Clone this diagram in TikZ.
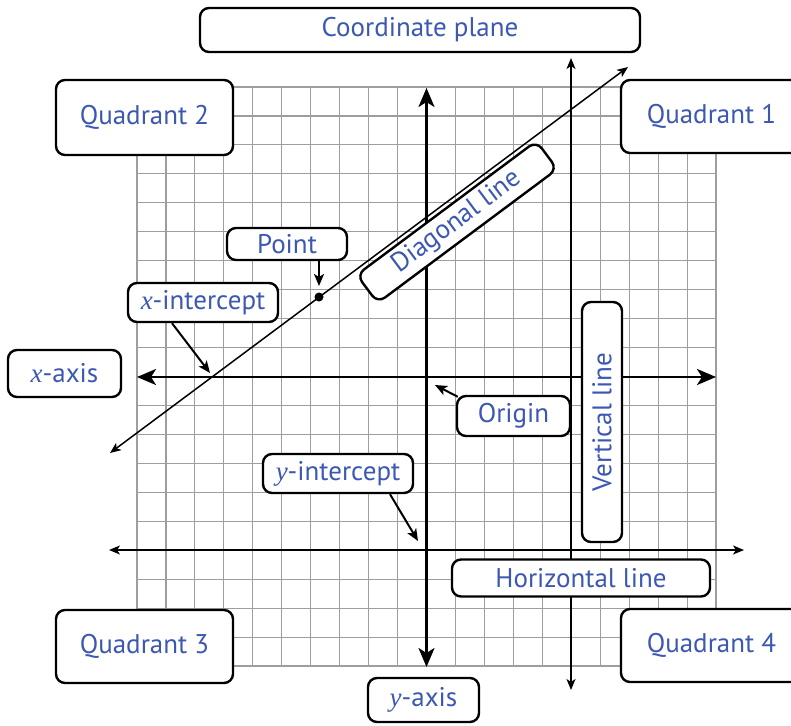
\documentclass[tikz,border=0pt]{standalone}
\usepackage{fontspec}
\setmainfont{PT Sans}
\newfontfamily\italfont{Liberation Serif}
\usetikzlibrary{arrows.meta}
\definecolor{lblue}{RGB}{60,88,178}
\newcommand{\vx}{{\italfont\itshape x}}
\newcommand{\vy}{{\italfont\itshape y}}
\begin{document}
\begin{tikzpicture}[x=1pt,y=-1pt,
  lbl/.style={draw=black, line width=2.4pt, rounded corners=9pt, fill=white, text=lblue,
    font=\fontsize{27}{30}\selectfont, inner sep=0pt, align=center},
  gridline/.style={draw=black!38, line width=1.1pt},
  axisline/.style={line width=2.6pt, {Stealth[length=19pt,width=16pt,inset=5pt]}-{Stealth[length=19pt,width=16pt,inset=5pt]}},
  thinline/.style={line width=1.5pt, {Stealth[length=11pt,width=9pt,inset=3pt]}-{Stealth[length=11pt,width=9pt,inset=3pt]}},
  callout/.style={line width=2pt, -{Stealth[length=12pt,width=10pt,inset=3pt]}}]
\useasboundingbox (0,0) rectangle (791,725);
\fill[white] (0,0) rectangle (791,725);
% grid
\foreach \i in {0,...,20} {
  \draw[gridline] ({137+\i*28.95},87) -- ({137+\i*28.95},666);
  \draw[gridline] (137,{87+\i*28.95}) -- (716,{87+\i*28.95});
}
% line end points
\coordinate (xL) at (137,377);
\coordinate (xR) at (716,377);
\coordinate (yT) at (426.5,88);
\coordinate (yB) at (426.5,667);
\coordinate (vT) at (571,58);
\coordinate (vB) at (571,690);
\coordinate (hL) at (109,550);
\coordinate (hR) at (744,550);
\coordinate (dA) at (110,453);
\coordinate (dB) at (628,67);
\draw[axisline] (xL) -- (xR);
\draw[axisline] (yT) -- (yB);
\draw[thinline] (vT) -- (vB);
\draw[thinline] (hL) -- (hR);
\draw[thinline] (dA) -- (dB);
% point
\fill (319,297) circle (4.5pt);
\coordinate (ptdot) at (319,286);
\coordinate (xint) at (210,373);
\coordinate (orig) at (435,385);
\coordinate (yint) at (418,541);
% labels
\node[lbl, minimum width=440pt, minimum height=44pt] (cp) at (420,30) {Coordinate plane};
\node[lbl, minimum width=177pt, minimum height=75pt] (q2) at (144.5,117.5) {Quadrant 2};
\node[lbl, minimum width=181pt, minimum height=73pt] (q1) at (711.5,116.5) {Quadrant 1};
\node[lbl, minimum width=177pt, minimum height=73pt] (q3) at (144.5,646.5) {Quadrant 3};
\node[lbl, minimum width=181pt, minimum height=73pt] (q4) at (711.5,645.5) {Quadrant 4};
\node[lbl, minimum width=113pt, minimum height=47pt] (xax) at (64.5,373.5) {\vx-axis};
\node[lbl, minimum width=111pt, minimum height=44pt] (yax) at (423.5,700) {\vy-axis};
\node[lbl, minimum width=120pt, minimum height=32pt] (pt) at (287,244) {Point};
\node[lbl, minimum width=150pt, minimum height=39pt] (xi) at (203,302.5) {\vx-intercept};
\node[lbl, minimum width=113pt, minimum height=40pt] (og) at (513.5,416) {Origin};
\node[lbl, minimum width=150pt, minimum height=39pt] (yi) at (338,473.5) {\vy-intercept};
\node[lbl, minimum width=258pt, minimum height=37pt] (hz) at (581,578) {Horizontal line};
\node[lbl, minimum width=240pt, minimum height=40pt, rotate=90] (vl) at (602,422) {Vertical line};
\node[lbl, minimum width=224pt, minimum height=35pt, rotate=36.7] (dl) at (457,222) {Diagonal line};
% callouts
\draw[callout] (pt.south -| ptdot) -- (ptdot);
\draw[callout] ([xshift=-31pt]xi.south) -- (xint);
\draw[callout] ([xshift=2pt,yshift=-2pt]og.north west) -- (orig);
\draw[callout] ([xshift=52pt]yi.south) -- (yint);
\end{tikzpicture}
\end{document}
